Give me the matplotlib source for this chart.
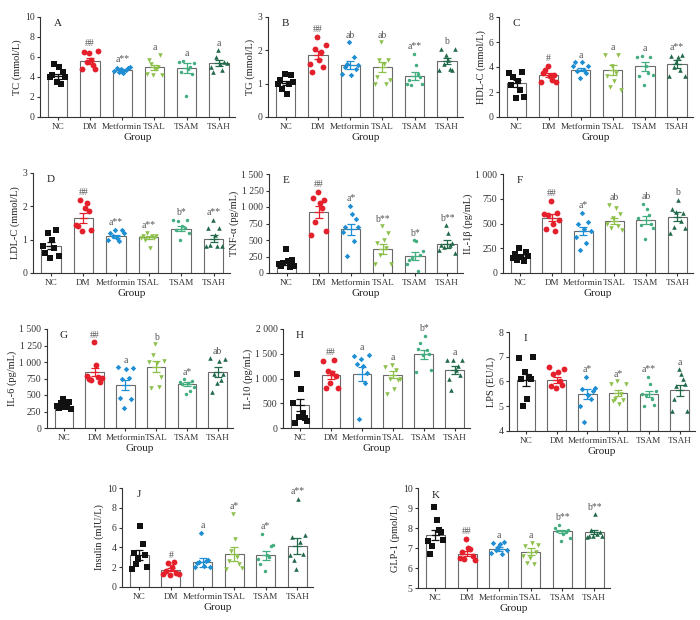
import numpy as np
import matplotlib
matplotlib.use("Agg")
import matplotlib.pyplot as plt

plt.rcParams['font.family'] = ['Liberation Serif', 'DejaVu Serif']

groups = ["NC", "DM", "Metformin", "TSAL", "TSAM", "TSAH"]
colors = ["#111111", "#e3202b", "#1f8ed3", "#8dc04b", "#43ad80", "#22694a"]
markers = ["s", "o", "D", "v", "o", "^"]
msizes = [4.2, 4.2, 2.8, 3.3, 2.5, 3.3]

# ---- Panel data: points per group, means, SEM, annotations ----
A_pts = [[4.0, 4.2, 5.3, 3.5, 5.0, 3.3, 4.5, 4.0],
         [4.8, 6.5, 5.5, 6.4, 5.7, 5.2, 4.8, 6.6],
         [4.6, 4.9, 4.5, 4.8, 4.4, 4.7, 4.9, 5.0],
         [4.3, 5.7, 5.3, 4.2, 4.8, 5.0, 6.2, 4.2],
         [5.5, 4.5, 5.6, 2.1, 4.8, 5.0, 4.3, 5.4],
         [5.0, 4.5, 6.0, 6.7, 5.3, 4.7, 5.5, 5.4]]
A_mean = [4.1, 5.6, 4.7, 5.0, 4.9, 5.4]
A_sem = [0.25, 0.3, 0.1, 0.25, 0.45, 0.3]
A_ann = ["", "##", "a**", "a", "a", "a"]

B_pts = [[1.0, 1.1, 0.85, 1.28, 0.7, 1.0, 1.25, 1.05],
         [1.6, 1.35, 2.05, 2.4, 1.7, 1.95, 1.5, 2.15],
         [1.3, 1.5, 1.6, 2.25, 1.25, 1.8, 1.45, 1.55],
         [1.0, 1.2, 1.7, 2.25, 1.6, 1.0, 1.7, 1.1],
         [1.0, 1.1, 0.95, 1.9, 1.55, 1.3, 1.2, 1.0],
         [1.4, 2.05, 1.6, 1.85, 1.7, 1.45, 1.4, 2.05]]
B_mean = [1.02, 1.85, 1.55, 1.5, 1.23, 1.68]
B_sem = [0.06, 0.12, 0.12, 0.15, 0.12, 0.1]
B_ann = ["", "##", "ab", "ab", "a**", "b"]

C_pts = [[3.5, 2.6, 3.2, 1.5, 2.9, 2.2, 3.6, 1.6],
         [2.8, 3.5, 3.8, 4.1, 3.3, 3.0, 3.4, 2.8],
         [4.1, 4.4, 3.7, 3.1, 4.4, 3.8, 3.5, 4.1],
         [5.0, 3.3, 2.4, 4.1, 2.9, 3.5, 5.0, 2.2],
         [4.8, 3.3, 4.9, 2.6, 4.1, 3.5, 4.8, 3.4],
         [3.3, 4.9, 4.0, 4.4, 4.8, 3.8, 5.0, 3.3]]
C_mean = [2.7, 3.35, 3.8, 3.75, 4.05, 4.25]
C_sem = [0.28, 0.15, 0.15, 0.4, 0.35, 0.3]
C_ann = ["", "#", "a", "a", "a", "a**"]

D_pts = [[0.8, 0.6, 1.2, 0.45, 1.0, 0.75, 1.3, 0.5],
         [1.45, 1.4, 2.2, 1.25, 1.95, 2.1, 1.85, 1.3],
         [1.0, 1.2, 1.1, 1.3, 1.05, 0.95, 1.3, 1.2],
         [1.05, 1.1, 1.0, 1.2, 0.75, 1.1, 1.05, 1.1],
         [1.6, 1.3, 1.55, 1.0, 1.4, 1.35, 1.6, 1.2],
         [0.8, 1.35, 0.85, 1.6, 1.15, 0.8, 1.35, 0.8]]
D_mean = [0.82, 1.65, 1.1, 1.07, 1.33, 1.03]
D_sem = [0.1, 0.14, 0.05, 0.04, 0.07, 0.1]
D_ann = ["", "##", "a**", "a**", "b*", "a**"]

E_pts = [[130, 110, 150, 360, 180, 90, 190, 100],
         [580, 1130, 770, 1230, 1060, 990, 1110, 630],
         [620, 700, 260, 1020, 900, 480, 820, 700],
         [130, 450, 280, 710, 500, 380, 600, 130],
         [130, 200, 230, 500, 480, 30, 270, 330],
         [350, 420, 390, 720, 600, 430, 450, 300]]
E_mean = [150, 930, 660, 370, 260, 440]
E_sem = [30, 90, 90, 75, 60, 55]
E_ann = ["", "##", "a*", "b**", "b*", "b**"]

F_pts = [[150, 190, 130, 255, 165, 120, 210, 175],
         [600, 440, 590, 730, 500, 420, 610, 540],
         [360, 490, 230, 610, 440, 300, 520, 420],
         [500, 690, 450, 560, 660, 470, 600, 430],
         [560, 480, 700, 340, 650, 590, 500, 450],
         [400, 650, 460, 620, 740, 530, 610, 450]]
F_mean = [165, 560, 425, 525, 535, 570]
F_sem = [15, 35, 40, 35, 40, 45]
F_ann = ["", "##", "a*", "ab", "ab", "b"]

G_pts = [[330, 300, 380, 440, 320, 350, 400, 290],
         [790, 740, 720, 1300, 950, 780, 700, 760],
         [920, 450, 740, 300, 900, 760, 440, 910],
         [1000, 600, 1100, 1270, 990, 620, 780, 1020],
         [700, 660, 740, 520, 680, 560, 710, 620],
         [1060, 550, 820, 680, 1020, 720, 820, 1050]]
G_mean = [340, 850, 650, 930, 665, 850]
G_sem = [18, 65, 80, 80, 25, 75]
G_ann = ["", "##", "a", "b", "a*", "ab"]

H_pts = [[500, 100, 1100, 220, 780, 300, 200, 150],
         [1350, 800, 1160, 900, 1120, 1380, 1050, 800],
         [1450, 1300, 190, 1400, 1260, 900, 1120, 1480],
         [1240, 680, 1000, 1280, 780, 1180, 960, 1000],
         [1130, 1600, 1720, 1470, 1860, 1580, 1500, 1170],
         [1380, 1000, 770, 1380, 1180, 1260, 1080, 1380]]
H_mean = [460, 1070, 1090, 1080, 1490, 1180]
H_sem = [125, 75, 150, 70, 90, 80]
H_ann = ["", "##", "a", "a", "b*", "a"]

I_pts = [[6.95, 6.1, 5.0, 6.4, 5.3, 6.2, 6.1, 6.98],
         [6.6, 5.8, 6.3, 5.75, 6.4, 6.0, 5.85, 6.5],
         [5.0, 5.7, 4.35, 6.2, 5.45, 5.3, 5.6, 5.75],
         [5.9, 5.2, 5.3, 6.0, 5.1, 5.5, 5.25, 5.9],
         [5.5, 5.0, 5.45, 6.2, 5.9, 5.3, 5.05, 5.6],
         [4.8, 5.3, 5.8, 6.5, 6.3, 6.1, 5.9, 4.8]]
I_mean = [6.07, 6.05, 5.5, 5.53, 5.5, 5.65]
I_sem = [0.25, 0.12, 0.2, 0.12, 0.12, 0.22]
I_ann = ["", "", "a*", "a*", "a**", "a"]

J_pts = [[1.8, 3.4, 2.3, 2.8, 6.2, 4.3, 3.2, 2.0],
         [1.3, 1.6, 2.4, 1.2, 2.0, 2.5, 1.4, 1.3],
         [2.0, 2.4, 2.5, 5.5, 2.1, 2.6, 2.7, 2.0],
         [1.8, 2.6, 3.6, 7.4, 4.8, 3.0, 2.3, 1.9],
         [2.8, 2.3, 5.4, 1.6, 3.2, 3.0, 4.1, 4.2],
         [3.2, 5.1, 2.7, 1.8, 8.9, 4.5, 3.3, 5.3]]
J_mean = [3.25, 1.75, 2.5, 3.35, 3.2, 4.15]
J_sem = [0.5, 0.18, 0.45, 0.7, 0.45, 0.8]
J_ann = ["", "#", "a", "a*", "a*", "a**"]

K_pts = [[7.35, 6.7, 7.1, 9.05, 8.4, 7.9, 7.8, 7.4],
         [6.5, 6.8, 6.45, 7.45, 7.0, 6.95, 6.6, 6.4],
         [6.75, 7.25, 6.9, 7.05, 7.2, 6.7, 7.3, 6.9],
         [6.6, 7.1, 6.25, 6.5, 7.25, 6.2, 6.8, 7.15],
         [8.0, 7.85, 8.15, 7.35, 7.7, 7.8, 7.9, 7.5],
         [7.55, 7.6, 7.9, 7.6, 8.7, 7.7, 7.8, 7.6]]
K_mean = [7.65, 6.72, 6.95, 6.82, 7.83, 7.78]
K_sem = [0.25, 0.14, 0.08, 0.18, 0.08, 0.1]
K_ann = ["", "##", "a", "a", "b**", "b**"]

panels = [
    ("A", "TC (mmol/L)", A_pts, A_mean, A_sem, A_ann, (0, 10), [0, 2, 4, 6, 8, 10], None),
    ("B", "TG (mmol/L)", B_pts, B_mean, B_sem, B_ann, (0, 3), [0, 1, 2, 3], None),
    ("C", "HDL-C (mmol/L)", C_pts, C_mean, C_sem, C_ann, (0, 8), [0, 2, 4, 6, 8], None),
    ("D", "LDL-C (mmol/L)", D_pts, D_mean, D_sem, D_ann, (0, 3), [0, 1, 2, 3], None),
    ("E", "TNF-α (pg/mL)", E_pts, E_mean, E_sem, E_ann, (0, 1500), [0, 250, 500, 750, 1000, 1250, 1500],
     ["0", "250", "500", "750", "1 000", "1 250", "1 500"]),
    ("F", "IL-1β (pg/mL)", F_pts, F_mean, F_sem, F_ann, (0, 1000), [0, 250, 500, 750, 1000],
     ["0", "250", "500", "750", "1 000"]),
    ("G", "IL-6 (pg/mL)", G_pts, G_mean, G_sem, G_ann, (0, 1500), [0, 250, 500, 750, 1000, 1250, 1500],
     ["0", "250", "500", "750", "1 000", "1 250", "1 500"]),
    ("H", "IL-10 (pg/mL)", H_pts, H_mean, H_sem, H_ann, (0, 2000), [0, 500, 1000, 1500, 2000],
     ["0", "500", "1 000", "1 500", "2 000"]),
    ("I", "LPS (EU/L)", I_pts, I_mean, I_sem, I_ann, (4, 8), [4, 5, 6, 7, 8], None),
    ("J", "Insulin (mIU/L)", J_pts, J_mean, J_sem, J_ann, (0, 10), [0, 2, 4, 6, 8, 10], None),
    ("K", "GLP-1 (pmol/L)", K_pts, K_mean, K_sem, K_ann, (5, 10), [5, 6, 7, 8, 9, 10], None),
]

# axes boxes in pixels: left, right, top, bottom
boxes = [
    (40, 235, 17, 117), (268, 463, 17, 117), (499, 693, 17, 117),
    (33, 230, 173, 273), (269, 463, 174, 273), (503, 693, 174, 273),
    (47, 233, 329, 428), (283, 470, 329, 428), (509, 695, 332, 431),
    (122, 313, 488, 587), (418, 610, 488, 588),
]

W, H = 700, 620
fig = plt.figure(figsize=(W / 100, H / 100), dpi=100)
axcol = "#333333"

for (lab, ylab, pts, means, sems, anns, ylim, yticks, yticklabels), (l, r, t, b) in zip(panels, boxes):
    ax = fig.add_axes([l / W, 1 - b / H, (r - l) / W, (b - t) / H])
    x = np.arange(len(groups))
    base = ylim[0]
    ax.bar(x, np.array(means) - base, bottom=base, width=0.6, color="white",
           edgecolor="#6a6a6a", linewidth=0.8, zorder=1)
    yr = ylim[1] - ylim[0]
    for i, g in enumerate(groups):
        vals = np.array(pts[i])
        n = len(vals)
        offs = np.linspace(-0.24, 0.24, n)
        ax.scatter(x[i] + offs, vals, marker=markers[i], s=msizes[i] ** 2,
                   color=colors[i], linewidths=0, zorder=3)
        ax.errorbar(x[i], means[i], yerr=sems[i], color=colors[i], capsize=3,
                    elinewidth=0.9, capthick=0.9, zorder=4)
        ax.plot([x[i] - 0.12, x[i] + 0.12], [means[i], means[i]], color=colors[i],
                lw=0.9, zorder=4)
        if anns[i]:
            top = max(vals.max(), means[i] + sems[i])
            ax.text(x[i], top + 0.025 * yr, anns[i], ha="center", va="bottom",
                    fontsize=7, color="#555555", zorder=5)
    ax.set_xlim(-0.55, 5.5)
    ax.set_ylim(*ylim)
    ax.set_yticks(yticks)
    if yticklabels:
        ax.set_yticklabels(yticklabels)
    ax.set_xticks(x)
    ax.set_xticklabels(groups)
    for s in ["top", "right"]:
        ax.spines[s].set_visible(False)
    for s in ["left", "bottom"]:
        ax.spines[s].set_color(axcol)
        ax.spines[s].set_linewidth(0.8)
    ax.tick_params(axis="y", labelsize=7, colors=axcol, length=2.5, width=0.8, pad=1.5)
    ax.tick_params(axis="x", labelsize=6.6, colors=axcol, length=2.5, width=0.8, pad=2)
    ax.set_ylabel(ylab, fontsize=7.5, color="#222222", labelpad=2)
    ax.set_xlabel("Group", fontsize=8, color="#222222", labelpad=1)
    ax.text(0.09, 0.93, lab, transform=ax.transAxes, fontsize=8, ha="center",
            va="center", color="#222222")

fig.savefig("out.png", dpi=100)
